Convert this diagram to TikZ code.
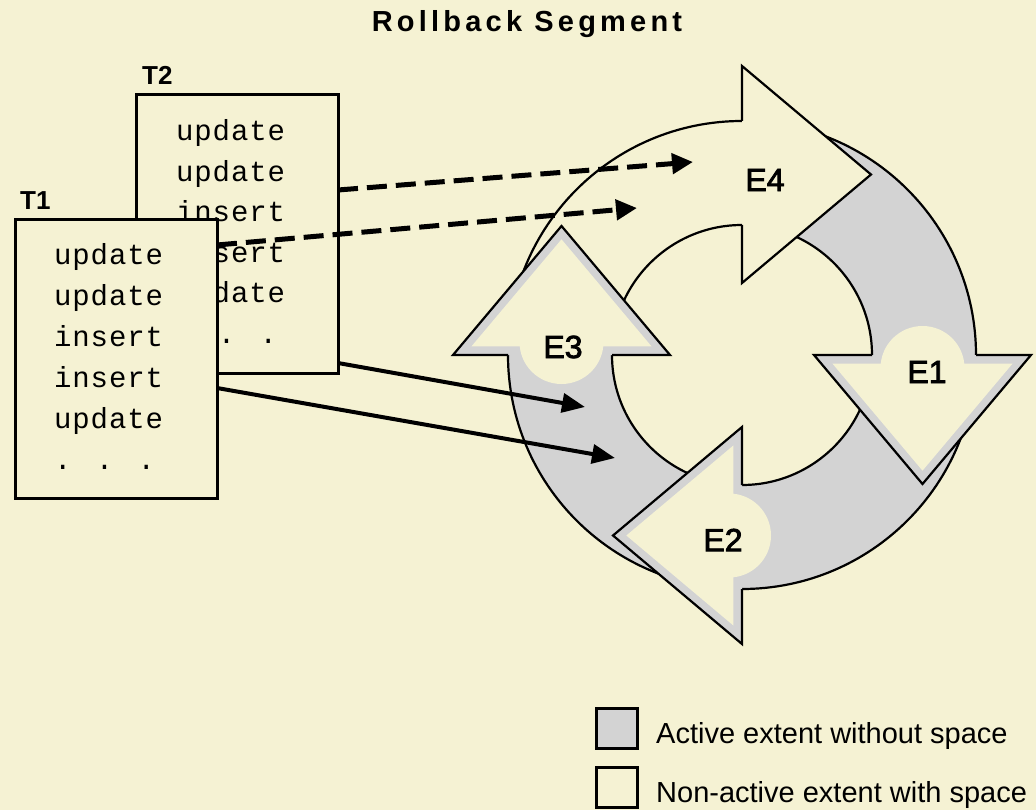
\documentclass[tikz,border=0pt]{standalone}
\usepackage{fontspec}
\setmainfont{Liberation Sans}
\newfontfamily\codefont[LetterSpace=3]{Liberation Mono}
\newfontfamily\headfont[LetterSpace=14.5]{Liberation Sans Bold}
\newfontfamily\extfont[FakeBold=2.5]{Liberation Sans}
\usetikzlibrary{calc,arrows.meta}
\definecolor{paper}{HTML}{F5F2D3}
\definecolor{active}{HTML}{D3D3D3}

\begin{document}
\begin{tikzpicture}[x=1pt,y=1pt,
  txbox/.style={draw, line width=3pt, fill=paper, minimum width=202pt, minimum height=278pt, inner sep=0pt, outer sep=0pt},
  code/.style={font=\codefont\fontsize{29}{29}\selectfont, inner sep=0pt, anchor=base west},
  tlabel/.style={font=\bfseries\fontsize{26}{26}\selectfont, inner sep=0pt, anchor=base west},
  ext/.style={font=\extfont\fontsize{32}{32}\selectfont, inner sep=0pt},
  ring/.style={line width=2.2pt, line join=miter},
  ptr/.style={line width=4pt, -{Triangle[length=23pt,width=19pt]}},
  dptr/.style={line width=5pt, dash pattern=on 20pt off 9pt, -{Triangle[length=21pt,width=20pt]}},
  key/.style={draw, line width=3pt, minimum width=41pt, minimum height=40pt, inner sep=0pt},
  keytext/.style={font=\fontsize{29}{29}\selectfont, inner sep=0pt, anchor=base west}
]
\useasboundingbox (0,0) rectangle (1036,-810);
\fill[paper] (0,0) rectangle (1036,-810);

% title
\node[font=\headfont\fontsize{29}{29}\selectfont, anchor=base, inner sep=0pt] (title) at (527,-32) {Rollback Segment};

% ring of extents: centre and radii
\coordinate (C) at (742,-355);

% bodies (quarter annuli): E1 0-90, E4 90-180, E3 180-270, E2 270-360
\foreach \a/\c in {0/active,90/paper,180/active,270/active}{
  \fill[\c] ($(C)+(\a:234)$) arc[start angle=\a, end angle=\a+90, radius=234]
    -- ($(C)+(\a+90:130)$) arc[start angle=\a+90, end angle=\a, radius=130] -- cycle;
}
\foreach \a in {0,90,180,270}{
  \draw[ring] ($(C)+(\a:234)$) arc[start angle=\a, end angle=\a+90, radius=234];
  \draw[ring] ($(C)+(\a:130)$) arc[start angle=\a, end angle=\a+90, radius=130];
}

% arrow heads, pointing clockwise
\foreach \n/\a in {E4/90,E1/0,E2/270,E3/180}{
  \coordinate (\n-bo) at ($(C)+(\a:289)$);
  \coordinate (\n-bi) at ($(C)+(\a:72)$);
  \coordinate (\n-ro) at ($(C)+(\a:234)$);
  \coordinate (\n-ri) at ($(C)+(\a:130)$);
  \coordinate (\n-tip) at ($(C)+(\a:180.5)+(\a-90:129)$);
  \coordinate (\n-in) at ($(C)+(\a:180.5)+(\a-90:50.5)$);
  \coordinate (\n-lab) at ($(C)+(\a:180.5)+(\a-90:13)$);
}

\fill[paper] (E4-bo) -- (E4-tip) -- (E4-bi) -- cycle;
\draw[ring] (E4-ro) -- (E4-bo) -- (E4-tip) -- (E4-bi) -- (E4-ri);

\foreach \n in {E1,E2,E3}{
  \fill[active] (\n-bo) -- (\n-tip) -- (\n-bi) -- cycle;
  \fill[paper] ($(\n-in)!0.83!(\n-bo)$) -- ($(\n-in)!0.83!(\n-tip)$) -- ($(\n-in)!0.83!(\n-bi)$) -- cycle;
  \fill[paper] (\n-lab) circle[radius=42];
  \draw[ring] (\n-ro) -- (\n-bo) -- (\n-tip) -- (\n-bi) -- (\n-ri);
}

\node[ext] (lE4) at (765,-180) {E4};
\node[ext] (lE1) at (927,-372) {E1};
\node[ext] (lE2) at (723,-540) {E2};
\node[ext] (lE3) at (563,-347) {E3};

% transactions
\node[txbox] (T2) at (237,-234) {};
\node[tlabel] (T2name) at (142,-85) {T2};
\foreach \t [count=\i] in {update,update,insert,insert,update,{. . .}}
  \node[code] (T2-\i) at (176,{-141-40.4*(\i-1)}) {\t};

\node[txbox] (T1) at (116,-359) {};
\node[tlabel] (T1name) at (20,-210) {T1};
\foreach \t [count=\i] in {update,update,insert,insert,update,{. . .}}
  \node[code] (T1-\i) at (54,{-265-40.8*(\i-1)}) {\t};

% undo records written into the extents
\coordinate (s1) at ($(T2.north east)+(0,-95)$);
\coordinate (s2) at ($(T1.north east)+(0,-25)$);
\coordinate (s3) at ($(T2.north east)+(0,-268)$);
\coordinate (s4) at ($(T1.north east)+(0,-168)$);
\coordinate (d1) at (693,-162);
\coordinate (d2) at (637,-208);
\coordinate (d3) at (585,-407);
\coordinate (d4) at (615,-458);
\draw[dptr] (s1) -- (d1);
\draw[dptr] (s2) -- (d2);
\draw[ptr] (s3) -- (d3);
\draw[ptr] (s4) -- (d4);

% legend
\node[key, fill=active] (k1) at (616.5,-728) {};
\node[key, fill=paper] (k2) at (616.5,-787) {};
\node[keytext] (k1t) at (656,-743) {Active extent without space};
\node[keytext] (k2t) at (656,-802) {Non-active extent with space};
\end{tikzpicture}
\end{document}
